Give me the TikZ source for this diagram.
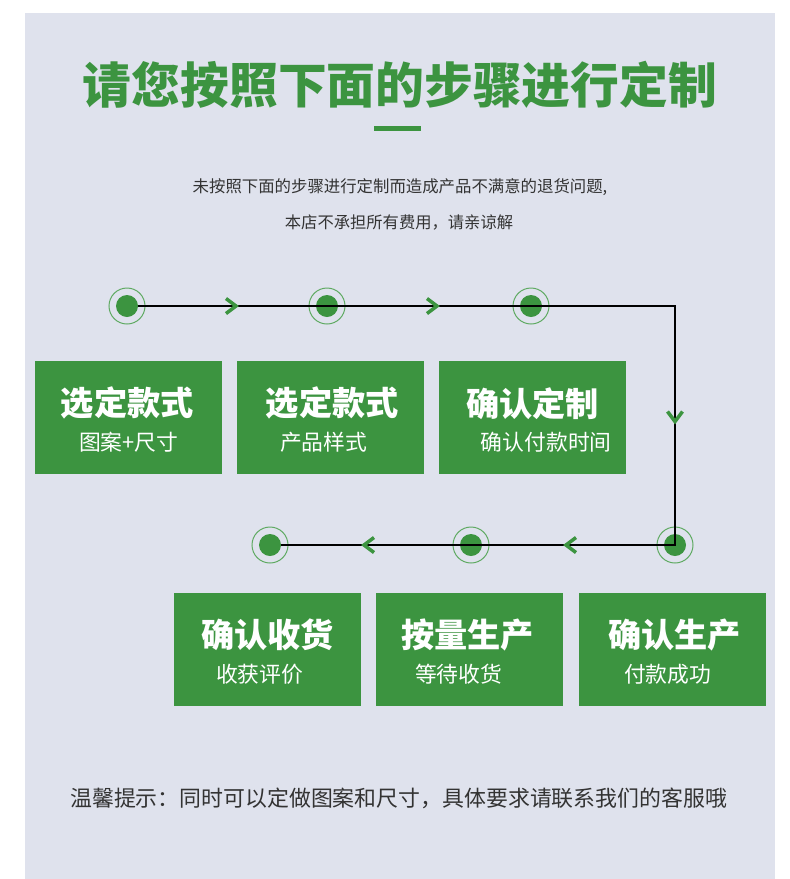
\documentclass[tikz,border=0pt]{standalone}
\usepackage{fontspec}
\setmainfont{Noto Sans CJK SC}
\definecolor{bgc}{HTML}{DFE2ED}
\definecolor{gr}{HTML}{3C9440}
\definecolor{ringc}{HTML}{5FAA62}
\definecolor{txt}{HTML}{333333}
\begin{document}
\begin{tikzpicture}[x=1pt,y=-1pt,
  box/.style={fill=gr, minimum width=187pt, minimum height=113pt, inner sep=0pt, anchor=north west},
  ttl/.style={text=white, inner sep=0pt, font=\bfseries\fontsize{33.2}{35}\selectfont},
  sub/.style={text=white, inner sep=0pt, font=\fontsize{21.8}{23}\selectfont},
  ring/.style={circle, draw=ringc, line width=1pt, minimum size=36pt, inner sep=0pt},
  dot/.style={circle, fill=gr, minimum size=22pt, inner sep=0pt},
  chev/.style={draw=gr, line width=3.5pt, miter limit=10},
  flow/.style={draw=black, line width=1.1pt}]
\useasboundingbox (0,0) rectangle (790,879);
\fill[white] (0,0) rectangle (790,879);
\fill[bgc] (25,13) rectangle (775,879);
% title
\node[inner sep=0pt, text=gr, font=\bfseries\fontsize{48.8}{50}\selectfont] (title) at (400,85) {请您按照下面的步骤进行定制};
\fill[gr] (374,126) rectangle (421,131);
\node[inner sep=0pt, text=txt, font=\fontsize{16.4}{18}\selectfont] (s1) at (400,187) {未按照下面的步骤进行定制而造成产品不满意的退货问题,};
\node[inner sep=0pt, text=txt, font=\fontsize{16.3}{18}\selectfont] (s2) at (399,222) {本店不承担所有费用，请亲谅解};
% circles
\foreach \n/\x/\y in {c1/127/306, c2/327/306, c3/531/306, c4/675/545, c5/471/545, c6/270/545}{
  \node[ring] (\n) at (\x,\y) {};
  \node[dot] (\n d) at (\x,\y) {};
}
\coordinate (turn) at (675,306);
\draw[flow] (c1d.east) -- (c3.center) -- (turn) -- (c4.center) -- (c6d.east);
% chevrons
\draw[chev] (226,298.5) -- (236,306) -- (226,313.5);
\draw[chev] (427,298.5) -- (437,306) -- (427,313.5);
\draw[chev] (667.5,411.5) -- (675,421.5) -- (682.5,411.5);
\draw[chev] (374,537.5) -- (364,545) -- (374,552.5);
\draw[chev] (576,537.5) -- (566,545) -- (576,552.5);
% boxes top
\node[box] (b1) at (35,361) {};
\node[ttl] at ([yshift=14.5pt,xshift=-1.5pt]b1.center) {选定款式};
\node[sub] at ([yshift=-24.5pt]b1.center) {图案+尺寸};
\node[box] (b2) at (237,361) {};
\node[ttl] at ([yshift=14.5pt,xshift=1.5pt]b2.center) {选定款式};
\node[sub] at ([yshift=-24.5pt,xshift=-7pt]b2.center) {产品样式};
\node[box] (b3) at (439,361) {};
\node[ttl] at ([yshift=14.5pt]b3.center) {确认定制};
\node[sub] at ([yshift=-24.5pt,xshift=13.5pt]b3.center) {确认付款时间};
% boxes bottom
\node[box] (b4) at (174,593) {};
\node[ttl] at ([yshift=14.5pt]b4.center) {确认收货};
\node[sub] at ([yshift=-24.5pt,xshift=-8pt]b4.center) {收获评价};
\node[box] (b5) at (376,593) {};
\node[ttl] at ([yshift=14.5pt,xshift=-2pt]b5.center) {按量生产};
\node[sub] at ([yshift=-24.5pt,xshift=-11pt]b5.center) {等待收货};
\node[box] (b6) at (579,593) {};
\node[ttl] at ([yshift=14.5pt,xshift=2pt]b6.center) {确认生产};
\node[sub] at ([yshift=-24.5pt,xshift=-5pt]b6.center) {付款成功};
% footer
\node[inner sep=0pt, anchor=west, text=txt, font=\fontsize{21.9}{23}\selectfont] (foot) at (70,798) {温馨提示：同时可以定做图案和尺寸，具体要求请联系我们的客服哦};
\end{tikzpicture}
\end{document}
